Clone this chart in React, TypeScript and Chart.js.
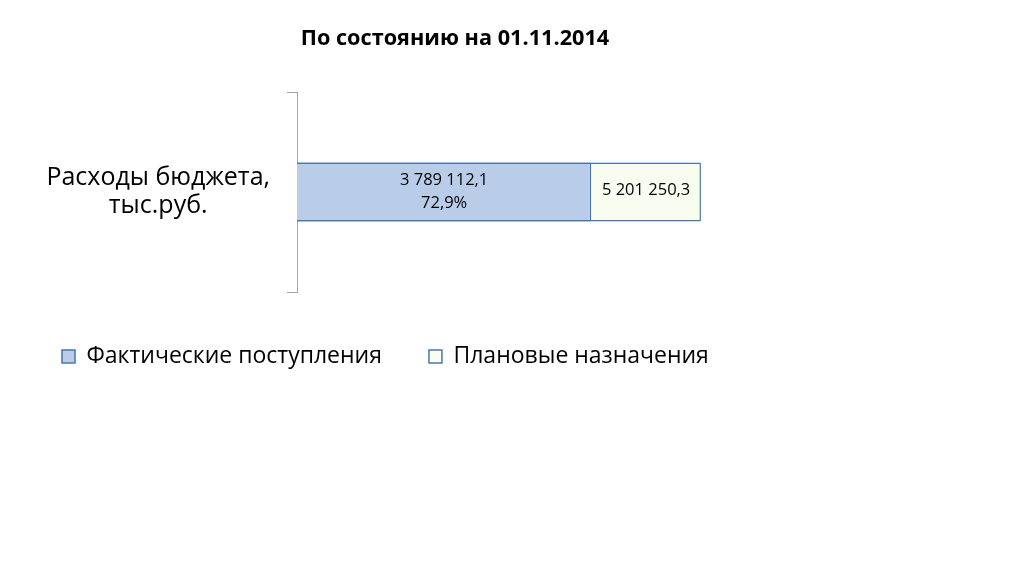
import React, { useEffect, useRef } from "react";
import { Chart, registerables } from "chart.js";

Chart.register(...registerables);

const chartTitle = "По состоянию на 01.11.2014";
const categories = [["Расходы бюджета,", "тыс.руб."]];
const seriesNames = ["Фактические поступления", "Плановые назначения"];
const actualValues = [3789112.1];
const planValues = [5201250.3];

const FONT = "'Open Sans', 'Noto Sans', sans-serif";

const fmt = (v: number) => {
  const [i, d] = v.toFixed(1).split(".");
  return i.replace(/\B(?=(\d{3})+(?!\d))/g, " ") + "," + d;
};

const labelPlugin = {
  id: "barLabels",
  afterDatasetsDraw(chart: any) {
    const ctx = chart.ctx;
    const a = chart.getDatasetMeta(0).data;
    const p = chart.getDatasetMeta(1).data;
    ctx.save();
    ctx.fillStyle = "#000";
    ctx.font = `16.5px ${FONT}`;
    ctx.textAlign = "center";
    ctx.textBaseline = "middle";
    a.forEach((el: any, i: number) => {
      const pl = p[i];
      const cx = (el.base + el.x) / 2;
      const pct = ((actualValues[i] / planValues[i]) * 100).toFixed(1).replace(".", ",") + "%";
      ctx.fillText(fmt(actualValues[i]), cx, el.y - 12);
      ctx.fillText(pct, cx, el.y + 11);
      const px = (el.x + pl.x) / 2;
      ctx.fillText(fmt(planValues[i]), px, pl.y - 2);
    });
    ctx.restore();
  },
};

export default function App() {
  const ref = useRef<HTMLCanvasElement | null>(null);
  useEffect(() => {
    if (!ref.current) return;
    const chart = new Chart(ref.current, {
      type: "bar",
      data: {
        labels: categories as any,
        datasets: [
          {
            label: seriesNames[0],
            data: actualValues,
            backgroundColor: "#b9cde9",
            borderColor: "#4a76b0",
            borderWidth: 1.5,
            categoryPercentage: 0.295,
            barPercentage: 1,
          },
          {
            label: seriesNames[1],
            data: planValues,
            backgroundColor: "#f8fdf0",
            borderColor: "#4a76b0",
            borderWidth: 1.5,
            categoryPercentage: 0.295,
            barPercentage: 1,
          },
        ],
      },
      options: {
        indexAxis: "y",
        animation: false,
        responsive: false,
        layout: { padding: { left: 15, right: 129, top: 0, bottom: 184 } },
        scales: {
          x: {
            display: true,
            min: 0,
            max: 7700000,
            stacked: false,
            grid: { display: false, drawTicks: false },
            border: { display: false },
            ticks: { display: false },
            afterFit: (s: any) => {
              s.height = 6;
            },
          },
          y: {
            stacked: true,
            afterFit: (s: any) => {
              s.width = 282;
            },
            border: { display: true, color: "#a6a6a6", width: 1 },
            grid: { drawOnChartArea: false, drawTicks: true, tickLength: 10, color: "#a6a6a6", offset: true },
            ticks: {
              crossAlign: "center",
              padding: 17,
              color: "#000",
              font: { family: FONT, size: 25, lineHeight: 1.12 },
            },
          },
        },
        plugins: {
          title: {
            display: true,
            text: chartTitle,
            color: "#000",
            font: { family: FONT, size: 21.7, weight: "bold" },
            padding: { top: 26, bottom: 40 },
          },
          legend: {
            position: "bottom",
            align: "start",
            labels: {
              boxWidth: 13,
              boxHeight: 13,
              padding: 47,
              color: "#000",
              font: { family: FONT, size: 23 },
            },
          },
          tooltip: { enabled: false },
        },
      },
      plugins: [labelPlugin],
    } as any);
    return () => chart.destroy();
  }, []);
  return (
    <div style={{ position: "absolute", left: 0, top: 0, width: 1024, height: 562, background: "#fff" }}>
      <canvas ref={ref} width={1024} height={562} />
    </div>
  );
}
